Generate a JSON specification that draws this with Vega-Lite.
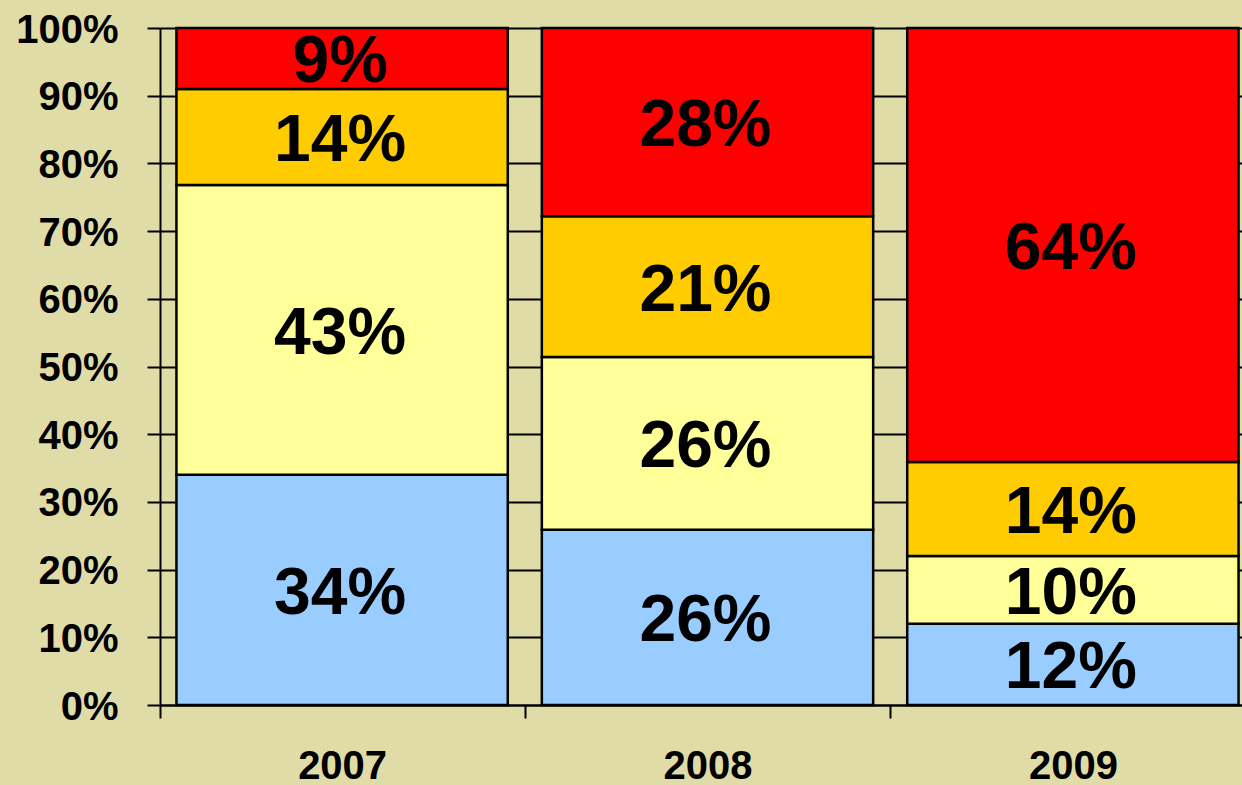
{
  "$schema": "https://vega.github.io/schema/vega-lite/v6.json",
  "width": 1082,
  "height": 677,
  "autosize": {"type": "none"},
  "padding": {"left": 160, "top": 28, "right": 0, "bottom": 80},
  "background": "#E0DCA8",
  "config": {
    "view": {"stroke": null},
    "font": "Liberation Sans"
  },
  "data": {
    "values": [
      {"year": "2007", "cat": "A", "order": 1, "value": 34.0, "label": "34%"},
      {"year": "2007", "cat": "B", "order": 2, "value": 42.8, "label": "43%"},
      {"year": "2007", "cat": "C", "order": 3, "value": 14.2, "label": "14%"},
      {"year": "2007", "cat": "D", "order": 4, "value": 9.0, "label": "9%"},
      {"year": "2008", "cat": "A", "order": 1, "value": 25.9, "label": "26%"},
      {"year": "2008", "cat": "B", "order": 2, "value": 25.5, "label": "26%"},
      {"year": "2008", "cat": "C", "order": 3, "value": 20.8, "label": "21%"},
      {"year": "2008", "cat": "D", "order": 4, "value": 27.8, "label": "28%"},
      {"year": "2009", "cat": "A", "order": 1, "value": 12.0, "label": "12%"},
      {"year": "2009", "cat": "B", "order": 2, "value": 10.0, "label": "10%"},
      {"year": "2009", "cat": "C", "order": 3, "value": 13.9, "label": "14%"},
      {"year": "2009", "cat": "D", "order": 4, "value": 64.1, "label": "64%"}
    ]
  },
  "encoding": {
    "x": {
      "field": "year",
      "type": "nominal",
      "scale": {"range": [0, 1095], "paddingInner": 0.0932, "paddingOuter": 0.045},
      "axis": {
        "title": null,
        "labelAngle": 0,
        "labelFont": "Liberation Sans",
        "labelFontSize": 40,
        "labelFontWeight": "bold",
        "labelColor": "black",
        "labelPadding": 28,
        "tickOffset": -182.5,
        "labelOffset": 182.5,
        "tickSize": 13,
        "tickWidth": 2,
        "tickColor": "black",
        "domainColor": "black",
        "domainWidth": 2,
        "grid": false
      }
    }
  },
  "layer": [
    {
      "mark": {"type": "bar", "stroke": "black", "strokeWidth": 2.5},
      "encoding": {
        "y": {
          "field": "value",
          "type": "quantitative",
          "stack": "normalize",
          "scale": {"domain": [0, 1], "nice": false},
          "axis": {
            "title": null,
            "values": [0, 0.1, 0.2, 0.3, 0.4, 0.5, 0.6, 0.7, 0.8, 0.9, 1],
            "format": ".0%",
            "labelFont": "Liberation Sans",
            "labelFontSize": 40,
            "labelFontWeight": "bold",
            "labelColor": "black",
            "labelPadding": 29,
            "labelOffset": 2,
            "tickSize": 13,
            "tickWidth": 2,
            "tickColor": "black",
            "domainColor": "black",
            "domainWidth": 2,
            "grid": true,
            "gridColor": "black",
            "gridWidth": 2,
            "gridOpacity": 1
          }
        },
        "color": {
          "field": "cat",
          "type": "nominal",
          "scale": {"domain": ["A", "B", "C", "D"], "range": ["#99CCFF", "#FFFF99", "#FFCC00", "#FF0000"]},
          "legend": null
        },
        "order": {"field": "order", "type": "quantitative"}
      }
    },
    {
      "mark": {"type": "text", "font": "Liberation Sans", "fontSize": 66, "fontWeight": "bold", "color": "black", "baseline": "middle", "dy": 4, "dx": -2},
      "encoding": {
        "y": {"field": "value", "type": "quantitative", "stack": "normalize", "bandPosition": 0.5},
        "text": {"field": "label"},
        "detail": {"field": "cat"},
        "order": {"field": "order", "type": "quantitative"}
      }
    }
  ]
}
